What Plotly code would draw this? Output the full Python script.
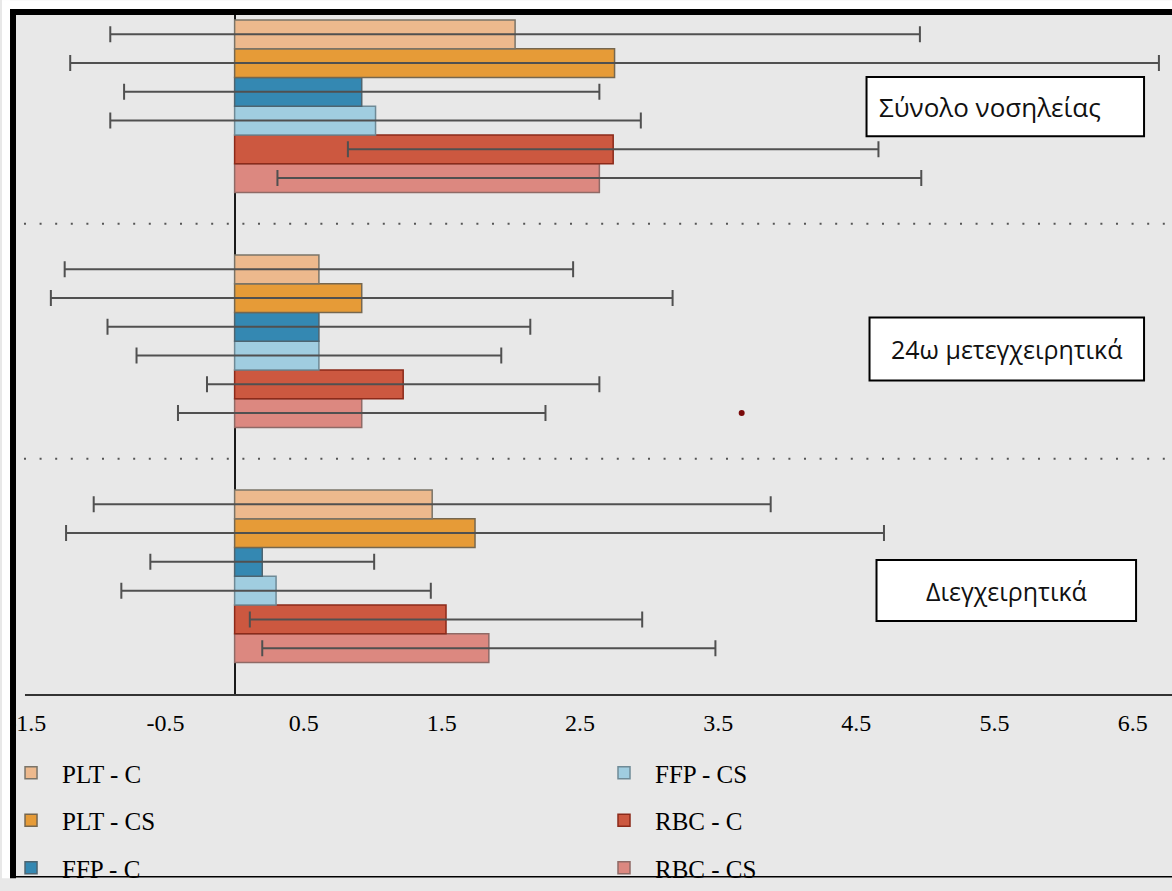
import plotly.graph_objects as go

# ---------------- data ----------------
groups = ["Διεγχειρητικά", "24ω μετεγχειρητικά", "Σύνολο νοσηλείας"]  # bottom -> top
series = ["PLT - C", "PLT - CS", "FFP - C", "FFP - CS", "RBC - C", "RBC - CS"]

# values per group, order: [Διεγχειρητικά, 24ω μετεγχειρητικά, Σύνολο νοσηλείας]
plt_c = [1.43, 0.61, 2.03]
plt_c_err = [2.45, 1.84, 2.93]
plt_cs = [1.74, 0.92, 2.75]
plt_cs_err = [2.96, 2.25, 3.94]
ffp_c = [0.20, 0.61, 0.92]
ffp_c_err = [0.81, 1.53, 1.72]
ffp_cs = [0.30, 0.61, 1.02]
ffp_cs_err = [1.12, 1.32, 1.92]
rbc_c = [1.53, 1.22, 2.74]
rbc_c_err = [1.42, 1.42, 1.92]
rbc_cs = [1.84, 0.92, 2.64]
rbc_cs_err = [1.64, 1.33, 2.33]

outlier_group = "24ω μετεγχειρητικά"
outlier_series = "RBC - CS"
outlier_x = [3.67]

xtick_vals = [-1.5, -0.5, 0.5, 1.5, 2.5, 3.5, 4.5, 5.5, 6.5]
xtick_text = ["-1.5", "-0.5", "0.5", "1.5", "2.5", "3.5", "4.5", "5.5", "6.5"]

values = [plt_c, plt_cs, ffp_c, ffp_cs, rbc_c, rbc_cs]
errors = [plt_c_err, plt_cs_err, ffp_c_err, ffp_cs_err, rbc_c_err, rbc_cs_err]

# ---------------- styles ----------------
colors = ["#edb98d", "#e69b37", "#3488b2", "#a0cde0", "#cc5840", "#dc8880"]
edge = ["#7a7468", "#76674f", "#4d6470", "#6f8a96", "#8b2a1a", "#8f6a66"]
ranks = [1, 2, 3, 4, 5, 6]
legend_of = ["legend", "legend", "legend", "legend2", "legend2", "legend2"]

W, H = 1172, 891
L, R, T, B = 14, 0, 15, 187
PW, PH = W - L - R, H - T - B


def px_x(p):
    return (p - L) / PW


def px_y(p):
    return (H - B - p) / PH


BG = "#e8e8e8"
BARGAP = 0.266
n = len(series)
ypos = list(range(len(groups)))

fig = go.Figure()
# plotly stacks horizontal grouped bars bottom->top in trace order; add reversed
for i in reversed(range(n)):
    fig.add_trace(go.Bar(
        y=ypos, x=values[i], orientation="h", name=series[i],
        marker=dict(color=colors[i], line=dict(color=edge[i], width=1.5)),
        error_x=dict(type="data", array=errors[i], symmetric=True,
                     color="#505050", thickness=2, width=8),
        legend=legend_of[i], legendrank=ranks[i], legendgroup=series[i],
        hoverinfo="x+name",
    ))

# outlier point (in the RBC - CS row of its group)
gi = groups.index(outlier_group)
si = series.index(outlier_series)
bw = (1 - BARGAP) / n
row_offset = (1 - BARGAP) / 2 - bw * (si + 0.5)
fig.add_trace(go.Scatter(
    x=outlier_x, y=[gi + row_offset], mode="markers",
    marker=dict(color="#7a0a0a", size=6), showlegend=False, hoverinfo="x",
))

x_lo = (L - 233) / 138.4
x_hi = (W - R - 233) / 138.4

leg_font = dict(size=25, family="Liberation Serif", color="#000")
fig.update_layout(
    width=W, height=H,
    margin=dict(l=L, r=R, t=T, b=B),
    paper_bgcolor=BG, plot_bgcolor=BG,
    barmode="group", bargap=BARGAP, bargroupgap=0,
    font=dict(family="Liberation Serif, Times New Roman, serif", color="#000"),
    legend=dict(x=px_x(-2), y=px_y(761), xanchor="left", yanchor="top",
                bgcolor="rgba(0,0,0,0)", itemwidth=52, tracegroupgap=12,
                font=leg_font),
    legend2=dict(x=px_x(592), y=px_y(761), xanchor="left", yanchor="top",
                 bgcolor="rgba(0,0,0,0)", itemwidth=52, tracegroupgap=12,
                 font=leg_font),
    xaxis=dict(range=[x_lo, x_hi], tickvals=xtick_vals, ticktext=xtick_text,
               showgrid=False, zeroline=True, zerolinecolor="#1a1a1a",
               zerolinewidth=1.5, showline=False, ticks="",
               tickfont=dict(family="Liberation Serif", size=24, color="#000"),
               ticklabelstandoff=12),
    yaxis=dict(range=[-0.501, 2.388], showgrid=False, zeroline=False,
               showticklabels=False, ticks=""),
)

shapes = []
# dotted separators between groups
for yv in [0.5, 1.5]:
    shapes.append(dict(type="line", xref="paper", yref="y", x0=px_x(22), x1=1,
                       y0=yv, y1=yv, line=dict(color="#555", width=2, dash="2px,13.6px")))
# axis baseline
shapes.append(dict(type="line", xref="paper", yref="paper", x0=px_x(23), x1=1,
                   y0=px_y(705), y1=px_y(705), line=dict(color="#333", width=2)))
# frame: white outer strips and black borders
shapes.append(dict(type="rect", xref="paper", yref="paper", x0=px_x(0), x1=px_x(8),
                   y0=px_y(H), y1=px_y(0), fillcolor="white", line=dict(width=0), layer="above"))
shapes.append(dict(type="rect", xref="paper", yref="paper", x0=px_x(0), x1=px_x(W),
                   y0=px_y(9), y1=px_y(0), fillcolor="white", line=dict(width=0), layer="above"))
shapes.append(dict(type="rect", xref="paper", yref="paper", x0=px_x(8), x1=px_x(W),
                   y0=px_y(15), y1=px_y(9), fillcolor="black", line=dict(width=0), layer="above"))
shapes.append(dict(type="rect", xref="paper", yref="paper", x0=px_x(8), x1=px_x(14),
                   y0=px_y(H), y1=px_y(9), fillcolor="black", line=dict(width=0), layer="above"))
shapes.append(dict(type="line", xref="paper", yref="paper", x0=px_x(8), x1=px_x(W),
                   y0=px_y(889.5), y1=px_y(889.5), line=dict(color="black", width=1.5), layer="above"))

# label boxes
boxes = [
    (866, 1144, 78, 138),   # Σύνολο νοσηλείας
    (869, 1144, 322, 386),  # 24ω μετεγχειρητικά
    (876, 1136, 568, 630),  # Διεγχειρητικά
]
for (x0, x1, y0, y1) in boxes:
    shapes.append(dict(type="rect", xref="paper", yref="paper", x0=px_x(x0), x1=px_x(x1),
                       y0=px_y(y1), y1=px_y(y0), fillcolor="white",
                       line=dict(color="black", width=2), layer="above"))
fig.update_layout(shapes=shapes)

ann_font = dict(family="Open Sans, Noto Sans, sans-serif", size=25, color="#111")
fig.add_annotation(text=groups[2], xref="paper", yref="paper", x=px_x(876), y=px_y(108),
                   xanchor="left", yanchor="middle", showarrow=False,
                   font=dict(ann_font, size=26))
fig.add_annotation(text=groups[1], xref="paper", yref="paper", x=px_x(1006), y=px_y(354),
                   xanchor="center", yanchor="middle", showarrow=False, font=ann_font)
fig.add_annotation(text=groups[0], xref="paper", yref="paper", x=px_x(1006), y=px_y(599),
                   xanchor="center", yanchor="middle", showarrow=False, font=ann_font)

fig.write_html("out.html", config={"displayModeBar": False},
               post_script="document.body.style.margin='0';")
